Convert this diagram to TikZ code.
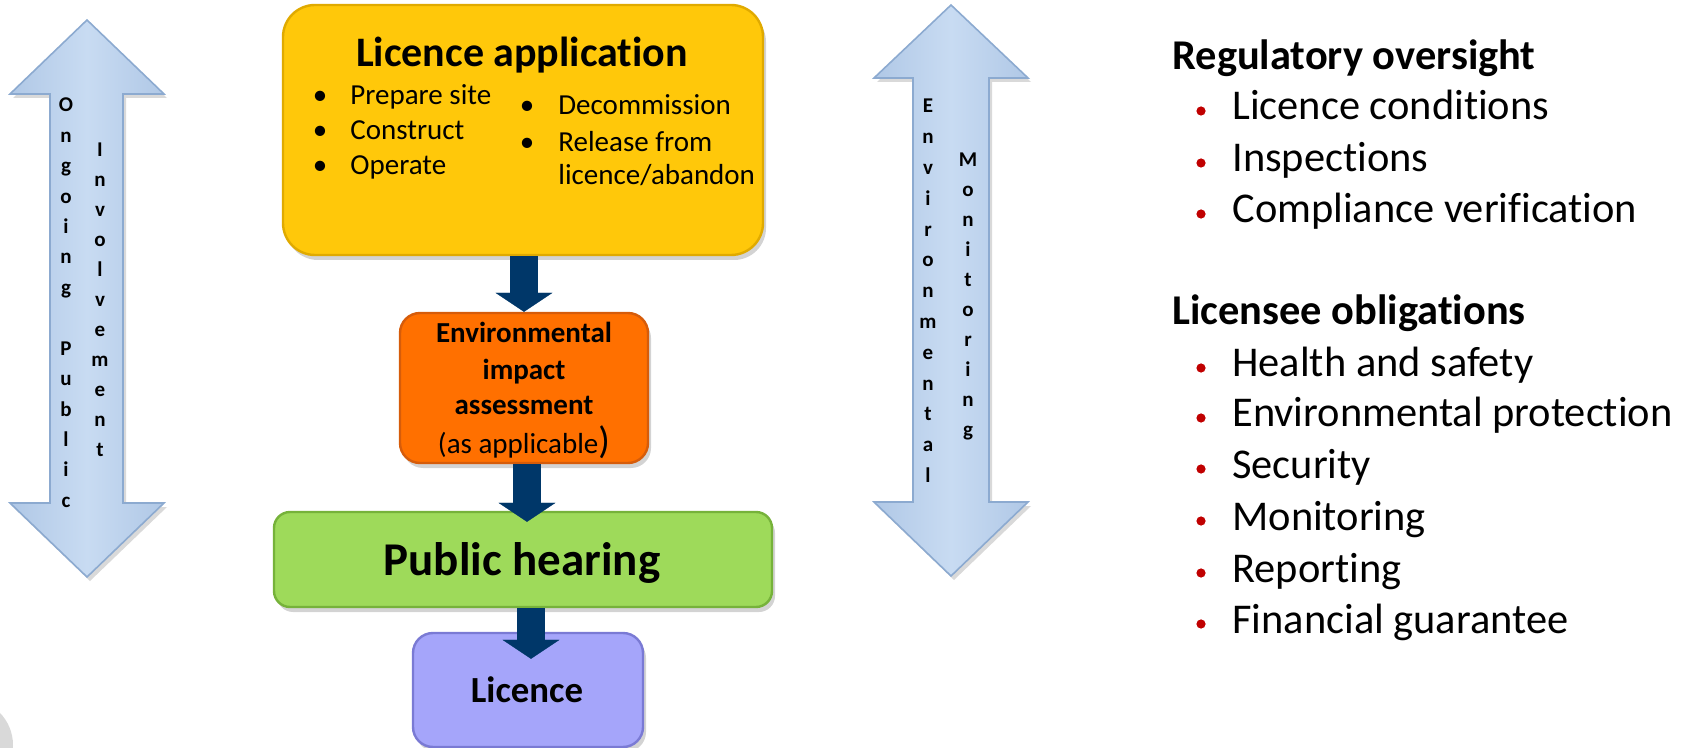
\documentclass[tikz,border=0pt]{standalone}
\usepackage{fontspec}
\setmainfont{Carlito}[Ligatures={TeX,NoCommon}]
\usetikzlibrary{arrows.meta,shadows,calc}

\definecolor{appyellow}{RGB}{255,200,10}
\definecolor{appyellowedge}{RGB}{224,170,0}
\definecolor{eiaorange}{RGB}{255,112,0}
\definecolor{eiaorangeedge}{RGB}{214,92,10}
\definecolor{hearinggreen}{RGB}{158,218,90}
\definecolor{hearinggreenedge}{RGB}{118,178,58}
\definecolor{licpurple}{RGB}{165,165,250}
\definecolor{licpurpleedge}{RGB}{122,122,212}
\definecolor{flownavy}{RGB}{0,55,105}
\definecolor{sidefill}{RGB}{200,219,242}
\definecolor{sidedark}{RGB}{176,200,230}
\definecolor{sideedge}{RGB}{140,170,208}
\definecolor{bulletred}{RGB}{192,0,0}
\definecolor{cornergrey}{RGB}{217,217,217}

\newcommand{\fsz}[2]{\fontsize{#1}{#2}\selectfont}

\begin{document}
\begin{tikzpicture}[x=0.5pt,y=-0.5pt,
  stagebox/.style={rounded corners=#1, line width=1.2pt, inner sep=0pt,
    drop shadow={opacity=0.35, shadow xshift=1.5pt, shadow yshift=-2.5pt}},
  flow/.style={draw=flownavy, line width=14pt,
    -{Triangle[width=28.5pt, length=9.5pt, line width=0.1pt]}},
  sidearrow/.style={draw=sideedge, line width=0.8pt, line join=miter,
    left color=sidedark, right color=sidedark, middle color=sidefill,
    drop shadow={opacity=0.3, shadow xshift=1.5pt, shadow yshift=-2pt}},
  vletter/.style={anchor=base, font=\bfseries\fsz{10.5}{12}, inner sep=0pt},
  bodytext/.style={anchor=base west, inner sep=0pt},
  dot/.style={circle, fill=bulletred, minimum size=4.6pt, inner sep=0pt}
]
\useasboundingbox (0,0) rectangle (1686,748);

% corner disc
\fill[cornergrey] (-33,745) circle (23pt);

% ---- public involvement double arrow ----
\draw[sidearrow] (87,20) -- (164,94) -- (123,94) -- (123,503) -- (164,503)
  -- (87,577) -- (10,503) -- (50,503) -- (50,94) -- (10,94) -- cycle;
\foreach \ch [count=\k from 0] in {O,n,g,o,i,n,g,{},P,u,b,l,i,c}
  \node[vletter] (ogp\k) at (66,112+30.4*\k) {\ch};
\foreach \ch [count=\k from 0] in {I,n,v,o,l,v,e,m,e,n,t}
  \node[vletter] (inv\k) at (100,157+30*\k) {\ch};

% ---- environmental monitoring double arrow ----
\draw[sidearrow] (951,5) -- (1028,78) -- (989,78) -- (989,502) -- (1028,502)
  -- (951,576) -- (874,502) -- (913,502) -- (913,78) -- (874,78) -- cycle;
\foreach \ch [count=\k from 0] in {E,n,v,i,r,o,n,m,e,n,t,a,l}
  \node[vletter] (env\k) at (928,113+30.8*\k) {\ch};
\foreach \ch [count=\k from 0] in {M,o,n,i,t,o,r,i,n,g}
  \node[vletter] (mon\k) at (968,167+30*\k) {\ch};

% ---- licensing stages ----
\node[stagebox=16pt, fill=appyellow, draw=appyellowedge,
  minimum width=240pt, minimum height=125pt] (app) at (523,130) {};
\node[stagebox=10pt, fill=eiaorange, draw=eiaorangeedge,
  minimum width=124pt, minimum height=75pt] (eia) at (524,388) {};
\node[stagebox=8pt, fill=hearinggreen, draw=hearinggreenedge,
  minimum width=249pt, minimum height=47.5pt] (hear) at (523,559.5) {};
\node[stagebox=10pt, fill=licpurple, draw=licpurpleedge,
  minimum width=115pt, minimum height=57pt] (lic) at (528,690) {};

% licence application content
\node[anchor=base, inner sep=0pt, font=\bfseries\fsz{21}{25}] (apptitle) at (522,67) {Licence application};
\foreach \y/\t [count=\i] in {105/Prepare site,140/Construct,175/Operate}{
  \node[anchor=base, inner sep=0pt, font=\fsz{14.5}{17}] (appdot\i) at (320,\y) {•};
  \node[bodytext, font=\fsz{14.5}{17}] (appitem\i) at (350,\y) {\t};
}
\node[anchor=base, inner sep=0pt, font=\fsz{14.5}{17}] (appdot4) at (527,115) {•};
\node[bodytext, font=\fsz{14.5}{17}] (appitem4) at (558,115) {Decommission};
\node[anchor=base, inner sep=0pt, font=\fsz{14.5}{17}] (appdot5) at (527,152) {•};
\node[bodytext, font=\fsz{14.5}{17}] (appitem5) at (558,152) {Release from};
\node[bodytext, font=\fsz{14.5}{17}] (appitem6) at (558,185) {licence/abandon};

% assessment content
\node[anchor=base, inner sep=0pt, font=\bfseries\fsz{14.5}{17}] (eia1) at (524,343) {Environmental};
\node[anchor=base, inner sep=0pt, font=\bfseries\fsz{14.5}{17}] (eia2) at (524,380) {impact};
\node[anchor=base, inner sep=0pt, font=\bfseries\fsz{14.5}{17}] (eia3) at (524,415) {assessment};
\node[anchor=base, inner sep=0pt, font=\fsz{14.5}{17}] (eia4) at (524,453) {(as applicable{\fsz{19}{19})}};

\node[anchor=base, inner sep=0pt, font=\bfseries\fsz{23.5}{28}] (hearlbl) at (522,575) {Public hearing};
\node[anchor=base, inner sep=0pt, font=\bfseries\fsz{18.4}{22}] (liclbl) at (527,702) {Licence};

% stage-to-stage arrows
\draw[flow] ([xshift=0.5pt]app.south) -- (eia.north);
\draw[flow] ([xshift=1.5pt]eia.south) -- ([xshift=2pt,yshift=-5.5pt]hear.north);
\draw[flow] ([xshift=4pt]hear.south) -- ([xshift=1.5pt,yshift=-13.5pt]lic.north);

% ---- oversight and obligations ----
\node[bodytext, font=\bfseries\fsz{21.2}{25}] (regh) at (1172,70) {Regulatory oversight};
\foreach \y/\t [count=\i] in {120/Licence conditions,172/Inspections,223/Compliance verification}{
  \node[dot] (regdot\i) at (1201,\y-9) {};
  \node[bodytext, font=\fsz{21.2}{25}] (regitem\i) at (1232,\y) {\t};
}
\node[bodytext, font=\bfseries\fsz{21.2}{25}] (oblh) at (1172,325) {Licensee obligations};
\foreach \y/\t [count=\i] in {377/Health and safety,427/Environmental protection,478/Security,530/Monitoring,582/Reporting,633/Financial guarantee}{
  \node[dot] (obldot\i) at (1201,\y-9) {};
  \node[bodytext, font=\fsz{21.2}{25}] (oblitem\i) at (1232,\y) {\t};
}
\end{tikzpicture}
\end{document}
